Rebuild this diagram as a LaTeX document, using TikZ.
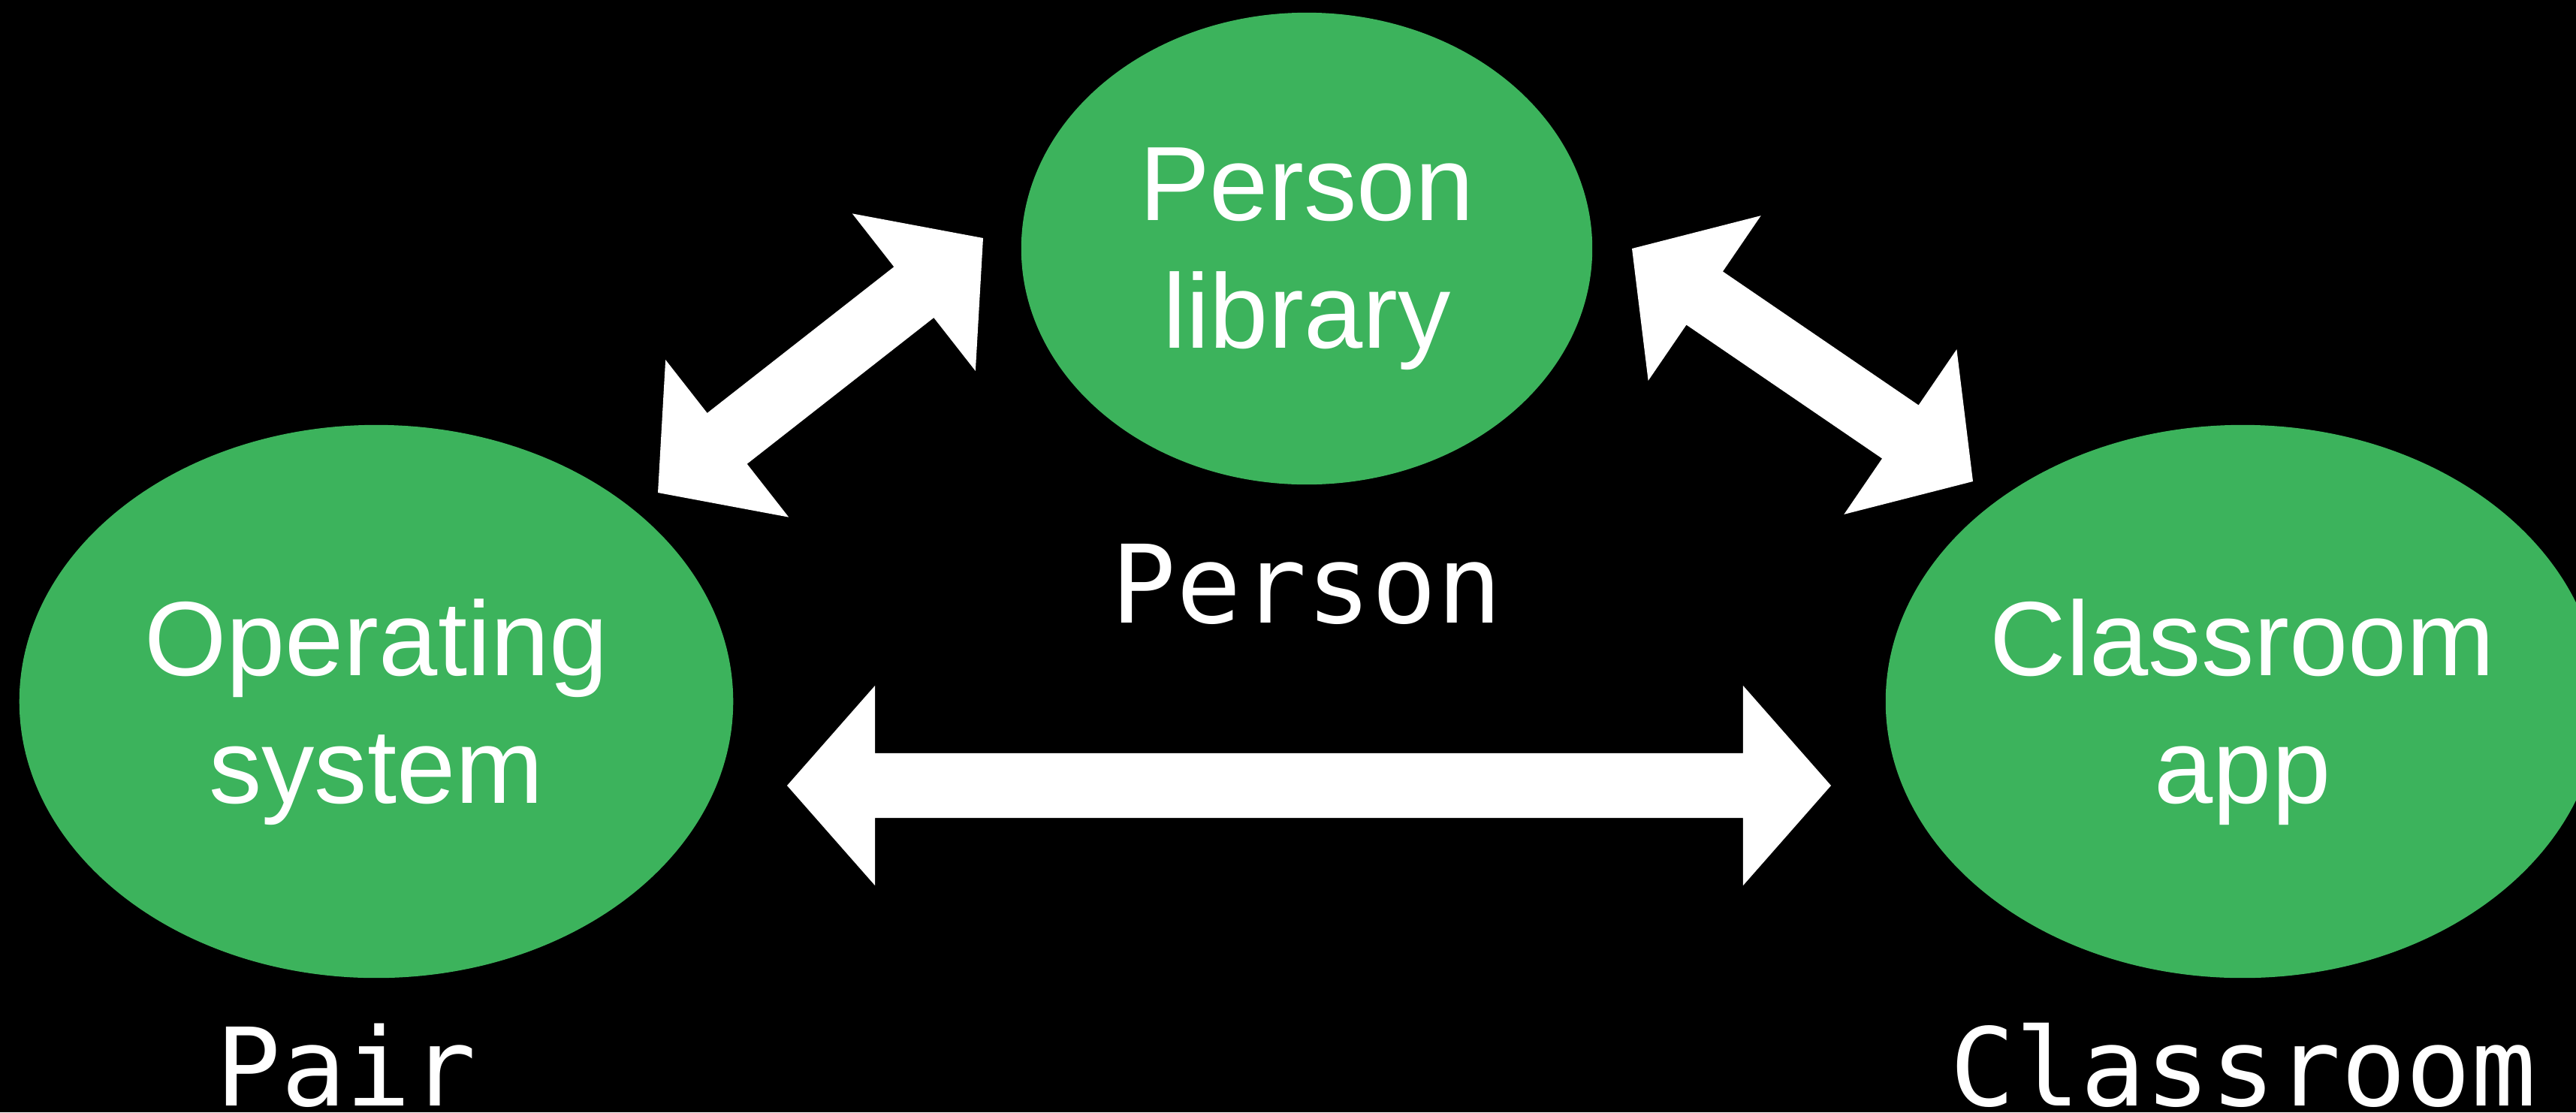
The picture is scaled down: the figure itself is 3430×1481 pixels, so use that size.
\documentclass[tikz,border=0pt]{standalone}
\usepackage{fontspec}
\setmainfont{Liberation Sans}
\newfontfamily\labelmono{DejaVu Sans Mono}
\usetikzlibrary{calc,shapes.geometric}
\definecolor{bubblegreen}{RGB}{60,179,92}
\newcommand{\blockarrow}[2]{%
  \fill[arrowfill] (#1)
    -- ($(#1)!1.17cm!(#2)!1.33cm!90:(#2)$)
    -- ($(#1)!1.17cm!(#2)!0.43cm!90:(#2)$)
    -- ($(#2)!1.17cm!(#1)!0.43cm!-90:(#1)$)
    -- ($(#2)!1.17cm!(#1)!1.33cm!-90:(#1)$)
    -- (#2)
    -- ($(#2)!1.17cm!(#1)!1.33cm!90:(#1)$)
    -- ($(#2)!1.17cm!(#1)!0.43cm!90:(#1)$)
    -- ($(#1)!1.17cm!(#2)!0.43cm!-90:(#2)$)
    -- ($(#1)!1.17cm!(#2)!1.33cm!-90:(#2)$)
    -- cycle;}
\begin{document}
\begin{tikzpicture}[x=0.01cm,y=-0.01cm,
  bubble/.style={ellipse, fill=bubblegreen, inner sep=0pt},
  bigbubble/.style={bubble, minimum width=9.5cm, minimum height=7.36cm},
  smallbubble/.style={bubble, minimum width=7.6cm, minimum height=6.28cm},
  bubtext/.style={text=white, align=center, inner sep=0pt,
    font=\fontsize{40}{48.4}\selectfont, yshift=-0.14cm},
  monolabel/.style={text=white, inner sep=0pt, anchor=base, text depth=0pt,
    font=\labelmono\fontsize{41}{48}\selectfont},
  arrowfill/.style={fill=white}]
\fill[black] (0,0) rectangle (3430,1481);
\useasboundingbox (0,0) rectangle (3430,1481);

\node[smallbubble] (lib) at (1740,331) {};
\node[bigbubble] (os) at (501,934) {};
\node[bigbubble] (app) at (2986,934) {};

\node[bubtext] (libtext) at (lib.center) {Person\\library};
\node[bubtext] (ostext) at (os.center) {Operating\\system};
\node[bubtext] (apptext) at (app.center) {Classroom\\app};

\node[monolabel] (personlbl) at (1740,829) {Person};
\node[monolabel] (pairlbl) at (461,1472) {Pair};
\node[monolabel] (classlbl) at (2987,1472) {Classroom};

\coordinate (osLibEnd) at (876,656);
\coordinate (libOsEnd) at (1309,317);
\coordinate (libAppEnd) at (2173,331);
\coordinate (appLibEnd) at (2627,641);
\coordinate (osAppEnd) at (1048,1046);
\coordinate (appOsEnd) at (2438,1046);

\blockarrow{osLibEnd}{libOsEnd}
\blockarrow{libAppEnd}{appLibEnd}
\blockarrow{osAppEnd}{appOsEnd}
\end{tikzpicture}
\end{document}
